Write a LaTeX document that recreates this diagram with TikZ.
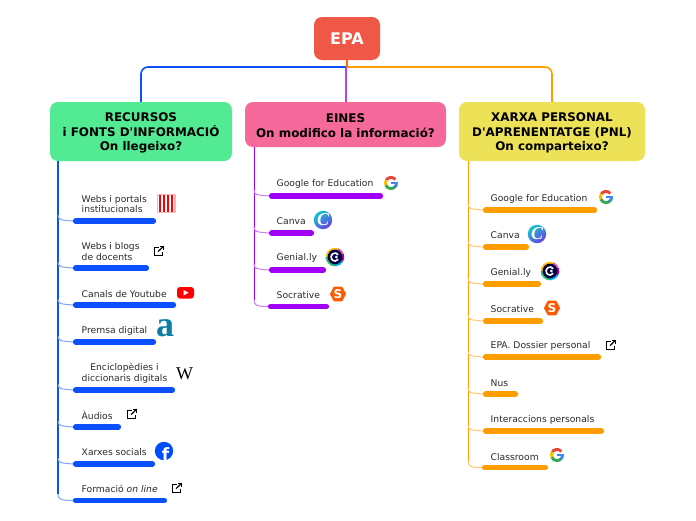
\documentclass[tikz,border=0pt]{standalone}
\usepackage{fontspec}
\setmainfont{DejaVu Sans}
\newfontfamily\plainsans{DejaVu Sans}
\newfontfamily\serifface{Liberation Serif}
\definecolor{cblue}{HTML}{0A50FF}
\definecolor{cbluel}{HTML}{7FA3FF}
\definecolor{cpurp}{HTML}{A000F5}
\definecolor{cpurpl}{HTML}{C77DFA}
\definecolor{cpurpm}{HTML}{B340FA}
\definecolor{corng}{HTML}{FF9D00}
\definecolor{corngl}{HTML}{FFC871}
\definecolor{ctxt}{HTML}{2A2A2A}
\definecolor{gred}{HTML}{EA4335}
\definecolor{gyel}{HTML}{FBBC05}
\definecolor{ggrn}{HTML}{34A853}
\definecolor{gblu}{HTML}{4285F4}
\definecolor{cvteal}{HTML}{12C4D0}
\definecolor{cvviol}{HTML}{6B3FE4}
\newcommand{\leafrow}[6]{% id, dark colour, light colour, trunk x, bar end x, y
  \coordinate (#1-t) at (#4,#6-6);
  \coordinate (#1-s) at (#4+15,#6);
  \coordinate (#1-e) at (#5,#6);
  \draw[linkline,#3] (#1-t) .. controls (#4,#6-1) and (#4+3,#6-1) .. (#1-s);
  \draw[barline,#2] (#1-s) -- (#1-e);
}
\tikzset{
  topicbox/.style={rounded corners=8pt,draw=none,align=center,text=black,inner sep=0pt,
    font=\plainsans\fontsize{11.9}{14.3}\selectfont\bfseries},
  leaftext/.style={anchor=west,inner sep=0pt,align=left,text=ctxt,font=\fontsize{9.2}{10.7}\selectfont},
  linkline/.style={line width=1pt},
  barline/.style={line width=5.2pt,line cap=round,shorten >=2.5pt,shorten <=2.5pt},
  trunkline/.style={line width=1pt},
  mainline/.style={line width=1.6pt,rounded corners=7pt},
  gicon/.pic={\begin{scope}[y=1pt,line width=2.9pt]
    \draw[gred] (40:5.6) arc (40:155:5.6);
    \draw[gyel] (145:5.6) arc (145:215:5.6);
    \draw[ggrn] (205:5.6) arc (205:320:5.6);
    \draw[gblu] (310:5.6) arc (310:362:5.6);
    \draw[gblu] (0.2,0) -- (7,0);
  \end{scope}},
  canvaicon/.pic={\begin{scope}[y=1pt]
    \shade[left color=cvteal,right color=cvviol,shading angle=35] (0,0) circle (9.2);
    \node[text=white,inner sep=0pt,font=\serifface\fontsize{18}{18}\selectfont\bfseries\itshape] (c) at (0,0) {C};
  \end{scope}},
  genicon/.pic={\begin{scope}[y=1pt,line width=2pt]
    \draw[ggrn!80!cyan] (180:8.3) arc (180:270:8.3);
    \draw[cyan] (270:8.3) arc (270:330:8.3);
    \draw[violet!70!magenta] (330:8.3) arc (330:380:8.3);
    \draw[magenta!70] (20:8.3) arc (20:70:8.3);
    \draw[gyel] (70:8.3) arc (70:180:8.3);
    \fill[blue!25!black] (0,0) circle (7.4);
    \draw[white,line width=1.6pt] (35:4) arc (35:325:4);
    \fill[white] (1.4,0) circle (1.5);
  \end{scope}},
  socicon/.pic={\begin{scope}[y=1pt]
    \fill[orange!70!red,draw=orange!70!red,line width=1.5pt,line join=round]
      (-7.2,0) -- (-3.7,-6.6) -- (3.7,-6.6) -- (7.2,0) -- (3.7,6.6) -- (-3.7,6.6) -- cycle;
    \node[text=white,inner sep=0pt,font=\fontsize{12}{12}\selectfont\bfseries] (s) at (0,0) {S};
  \end{scope}},
  exticon/.pic={\begin{scope}[y=1pt,line width=1.2pt,black]
    \draw (-0.5,3.6) -- (-4.6,3.6) -- (-4.6,-4.8) -- (3.8,-4.8) -- (3.8,-0.8);
    \draw (-1,-0.6) -- (4.6,4.8);
    \draw (1,4.8) -- (4.8,4.8) -- (4.8,1);
  \end{scope}},
}
\begin{document}
\begin{tikzpicture}[x=1pt,y=-1pt]
\useasboundingbox (0,0) rectangle (696,520);
% main nodes
\node[topicbox,fill={rgb,255:red,239;green,87;blue,71},text=white,minimum width=66pt,minimum height=43pt,
  font=\fontsize{16}{18}\selectfont\bfseries] (epa) at (347,38.5) {EPA};
\node[topicbox,fill={rgb,255:red,82;green,234;blue,146},minimum width=182pt,minimum height=59pt] (rec) at (141,131.5)
  {\rule{0pt}{12pt}RECURSOS\\i FONTS D'INFORMACIÓ\\On llegeixo?};
\node[topicbox,fill={rgb,255:red,245;green,105;blue,155},minimum width=201pt,minimum height=45pt] (ein) at (345.5,124.5)
  {\rule{0pt}{11pt}EINES\\On modifico la informació?};
\node[topicbox,fill={rgb,255:red,237;green,225;blue,88},minimum width=186pt,minimum height=59pt] (xar) at (552,131.5)
  {\rule{0pt}{12pt}XARXA PERSONAL\\D'APRENENTATGE (PNL)\\On comparteixo?};
% links from the root
\coordinate (epa-j) at (347,67);
\coordinate (ein-j) at (346,67);
\draw[mainline,cblue] (epa-j) -| (rec.north);
\draw[mainline,corng] (epa-j) -| (xar.north);
\draw[line width=2pt,cpurpm] (346,102) -- (ein-j);
\draw[line width=2pt,orange!85!red] (epa.south) -- (epa-j);
% trunks
\coordinate (rec-t) at (58,161);
\coordinate (ein-t) at (254,147);
\coordinate (xar-t) at (468,161);
\draw[line width=1.3pt,cblue] (rec-t) -- (58,494);
\draw[linkline,cbluel] (58,494) .. controls (58,499) and (60,500.5) .. (73,500.5);
\draw[trunkline,cpurp] (ein-t) -- (254,300);
\draw[linkline,cpurpl] (254,300) .. controls (254,305) and (256,306.5) .. (268,306.5);
\draw[trunkline,corng] (xar-t) -- (468,461);
\draw[linkline,corngl] (468,461) .. controls (468,466) and (470,467.5) .. (482,467.5);
% left branch
\leafrow{a1}{cblue}{cbluel}{58}{156}{221}
\leafrow{a2}{cblue}{cbluel}{58}{149}{268}
\leafrow{a3}{cblue}{cbluel}{58}{176}{305}
\leafrow{a4}{cblue}{cbluel}{58}{156}{342}
\leafrow{a5}{cblue}{cbluel}{58}{175}{390}
\leafrow{a6}{cblue}{cbluel}{58}{121}{427}
\leafrow{a7}{cblue}{cbluel}{58}{155}{464}
\draw[barline,cblue] (73,500.5) -- (167,500.5);
\node[leaftext] (ta1) at (81.5,204) {Webs i portals\\institucionals};
\node[leaftext] (ta2) at (81.5,251.5) {Webs i blogs\\de docents};
\node[leaftext] (ta3) at (81.5,294) {Canals de Youtube};
\node[leaftext] (ta4) at (81.5,331) {Premsa digital};
\node[leaftext,align=center] (ta5) at (81.5,373.5) {Enciclopèdies i\\diccionaris digitals};
\node[leaftext] (ta6) at (81.5,415) {Àudios};
\node[leaftext] (ta7) at (81.5,452) {Xarxes socials};
\node[leaftext] (ta8) at (81.5,489) {Formació \textit{on line}};
% middle branch
\leafrow{b1}{cpurp}{cpurpl}{254}{383}{196}
\leafrow{b2}{cpurp}{cpurpl}{254}{314}{233}
\leafrow{b3}{cpurp}{cpurpl}{254}{326}{270}
\draw[barline,cpurp] (268,306.5) -- (329,306.5);
\node[leaftext] (tb1) at (276.5,184) {Google for Education};
\node[leaftext] (tb2) at (276.5,221) {Canva};
\node[leaftext] (tb3) at (276.5,258) {Genial.ly};
\node[leaftext] (tb4) at (276.5,295) {Socrative};
% right branch
\leafrow{c1}{corng}{corngl}{468}{597}{210}
\leafrow{c2}{corng}{corngl}{468}{529}{247}
\leafrow{c3}{corng}{corngl}{468}{541}{284}
\leafrow{c4}{corng}{corngl}{468}{543}{321}
\leafrow{c5}{corng}{corngl}{468}{601}{357}
\leafrow{c6}{corng}{corngl}{468}{518}{394}
\leafrow{c7}{corng}{corngl}{468}{604}{431}
\draw[barline,corng] (482,467.5) -- (548,467.5);
\node[leaftext] (tc1) at (490.5,199) {Google for Education};
\node[leaftext] (tc2) at (490.5,235.5) {Canva};
\node[leaftext] (tc3) at (490.5,272.5) {Genial.ly};
\node[leaftext] (tc4) at (490.5,309.5) {Socrative};
\node[leaftext] (tc5) at (490.5,346) {EPA. Dossier personal};
\node[leaftext] (tc6) at (490.5,383) {Nus};
\node[leaftext] (tc7) at (490.5,420) {Interaccions personals};
\node[leaftext] (tc8) at (490.5,457) {Classroom};
% icons: left
\fill[red!30!white] (156.5,194) rectangle (175.5,213);
\foreach \k in {0,1,2,3}{\fill[white] (158+\k*4,195) rectangle (159.2+\k*4,212);\fill[red] (159.2+\k*4,195) rectangle (161+\k*4,212);\fill[white] (161+\k*4,195) rectangle (162+\k*4,212);}
\pic (e1) at (159,251) {exticon};
\fill[red,rounded corners=3pt] (177,287) rectangle (194,298.5);
\fill[white] (183.5,290) -- (183.5,295.5) -- (188.5,292.75) -- cycle;
\node[inner sep=0pt,text={rgb,255:red,12;green,126;blue,166},font=\serifface\fontsize{36}{36}\selectfont\bfseries] (alet) at (165,328) {a};
\node[inner sep=0pt,text=black,font=\serifface\fontsize{18}{18}\selectfont] (wlet) at (184.5,373.5) {W};
\pic (e2) at (132,414) {exticon};
\fill[blue!70!cyan] (164,451) circle (9.2);
\node[inner sep=0pt,text=white,font=\fontsize{17}{17}\selectfont\bfseries] (flet) at (165.5,454) {f};
\pic (e3) at (177,488) {exticon};
% icons: middle
\pic (g1) at (391,183) {gicon};
\pic (v1) at (323,220) {canvaicon};
\pic (n1) at (335,257) {genicon};
\pic (s1) at (338,294) {socicon};
% icons: right
\pic (g2) at (606,197) {gicon};
\pic (v2) at (537,234) {canvaicon};
\pic (n2) at (550,271) {genicon};
\pic (s2) at (552,308) {socicon};
\pic (e4) at (611,345) {exticon};
\pic (g3) at (557,455) {gicon};
\end{tikzpicture}
\end{document}
